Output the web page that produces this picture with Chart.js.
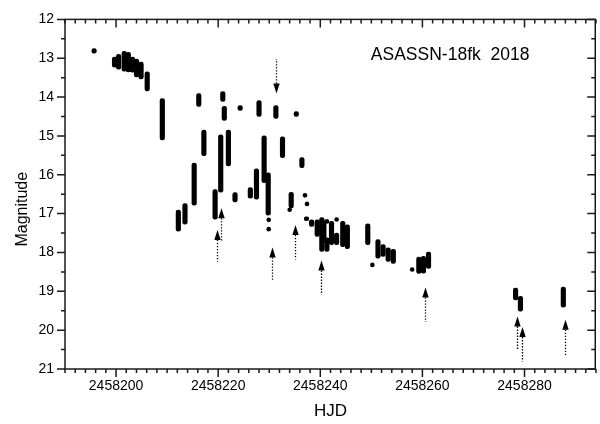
<!DOCTYPE html>
<html lang="en">
<head>
    <meta charset="UTF-8">
    <title>ASASSN-18fk 2018</title>
    <script src="https://cdn.jsdelivr.net/npm/chart.js"></script>
    <style>
        body {
            margin: 0;
            background-color: #fff;
        }
        #lightCurve {
            display: block;
        }
    </style>
</head>
<body>
    <canvas id="lightCurve" width="600" height="424"></canvas>

    <script>
        // nightly runs: HJD, brightest and faintest magnitude of the run
        const runHJD = [
            2458195.7, 2458199.7, 2458200.5, 2458201.6, 2458202.4, 2458203.2, 2458204.0, 2458204.9,
            2458206.1, 2458209.06, 2458212.2, 2458213.5, 2458215.3, 2458216.2, 2458217.2, 2458219.4,
            2458220.5, 2458220.9, 2458221.2, 2458222.0, 2458223.3, 2458224.3, 2458226.3, 2458227.5,
            2458228.0, 2458229.0, 2458229.8, 2458231.3, 2458232.6, 2458234.3, 2458235.3, 2458236.4,
            2458237.3, 2458238.3, 2458239.4, 2458240.3, 2458240.7, 2458241.3, 2458242.2, 2458243.2,
            2458244.4, 2458245.3, 2458249.3, 2458251.3, 2458252.3, 2458253.3, 2458254.3, 2458259.3,
            2458260.2, 2458261.2, 2458278.25, 2458279.2, 2458287.6
        ];
        const runBright = [
            12.75, 12.97, 12.90, 12.82, 12.85, 12.97, 13.02, 13.10,
            13.35, 14.04, 16.91, 16.74, 15.70, 13.91, 14.85, 16.38,
            14.97, 13.86, 14.24, 14.85, 16.46, 14.22, 16.33, 15.85,
            14.09, 15.00, 15.95, 14.22, 15.02, 16.45, 14.37, 15.56,
            17.08, 17.16, 17.16, 17.10, 17.18, 17.62, 17.20, 17.50,
            17.20, 17.29, 17.26, 17.67, 17.80, 17.88, 17.92, 18.12,
            18.10, 17.99, 18.92, 19.13, 18.89
        ];
        const runFaint = [
            12.87, 13.23, 13.28, 13.33, 13.35, 13.36, 13.48, 13.53,
            13.84, 15.10, 17.45, 17.27, 16.78, 14.24, 15.51, 17.14,
            16.45, 14.11, 14.60, 15.77, 16.70, 14.34, 16.60, 16.63,
            14.50, 16.20, 17.04, 14.55, 15.56, 16.85, 14.50, 15.82,
            17.18, 17.33, 17.59, 17.97, 17.75, 17.97, 17.80, 17.80,
            17.85, 17.90, 17.80, 18.15, 18.10, 18.23, 18.28, 18.54,
            18.53, 18.41, 19.22, 19.51, 19.41
        ];

        // isolated single measurements
        const dotHJD = [2458229.9, 2458229.9, 2458234.0, 2458237.0, 2458237.4, 2458241.3, 2458243.2, 2458250.2, 2458258.0];
        const dotMag = [17.16, 17.40, 16.90, 16.53, 16.75, 17.20, 17.15, 18.32, 18.44];

        // marked epochs: arrow tip and tail magnitudes
        const arrowHJD = [2458231.3, 2458219.75, 2458220.5, 2458230.5, 2458235.0, 2458240.2, 2458260.6, 2458278.6, 2458279.55, 2458288.0];
        const arrowTip = [13.91, 17.42, 16.86, 17.87, 17.29, 18.21, 18.90, 19.65, 19.92, 19.73];
        const arrowTail = [13.02, 18.23, 17.74, 18.75, 18.18, 19.09, 19.79, 20.51, 20.81, 20.64];

        const xTickValues = [2458200, 2458220, 2458240, 2458260, 2458280];
        const yTickValues = [12, 13, 14, 15, 16, 17, 18, 19, 20, 21];

        const FONT = '"Liberation Sans", Arial, sans-serif';
        const X_MIN = 2458190, X_MAX = 2458294;
        const Y_MIN = 12, Y_MAX = 21;

        // box frame with outward ticks on bottom/left and inward ticks on top/right,
        // plus the object label and the vertical axis title
        const frameTicks = {
            id: 'frameTicks',
            afterDraw(chart) {
                const {ctx, chartArea: a, scales: {x, y}} = chart;
                const right = a.right - 0.75;
                ctx.save();
                ctx.strokeStyle = '#1a1a1a';
                ctx.lineWidth = 1.5;
                ctx.strokeRect(a.left, a.top, right - a.left, a.bottom - a.top);
                ctx.beginPath();
                for (let d = X_MIN; d <= X_MAX; d += 2) {
                    const px = x.getPixelForValue(d);
                    const len = d % 20 === 0 ? 8 : 4;
                    ctx.moveTo(px, a.bottom);
                    ctx.lineTo(px, a.bottom + len);
                    ctx.moveTo(px, a.top);
                    ctx.lineTo(px, a.top + len);
                }
                for (let m = Y_MIN; m <= Y_MAX; m += 0.5) {
                    const py = y.getPixelForValue(m);
                    const len = m % 1 === 0 ? 8 : 4;
                    ctx.moveTo(a.left, py);
                    ctx.lineTo(a.left - len, py);
                    ctx.moveTo(right, py);
                    ctx.lineTo(right - len, py);
                }
                ctx.stroke();

                ctx.fillStyle = '#000';
                ctx.font = '17.5px ' + FONT;
                ctx.textBaseline = 'alphabetic';
                ctx.fillText('ASASSN-18fk  2018', x.getPixelForValue(2458249.9), y.getPixelForValue(13.05));

                // y title sits a little below the middle of the axis
                ctx.translate(22.5, (a.top + a.bottom) / 2 + 15);
                ctx.rotate(-Math.PI / 2);
                ctx.font = '16px ' + FONT;
                ctx.textAlign = 'center';
                ctx.textBaseline = 'middle';
                ctx.fillText('Magnitude', 0, 0);
                ctx.restore();
            }
        };

        // dotted arrows pointing at the marked epochs
        const arrows = {
            id: 'arrows',
            afterDatasetsDraw(chart) {
                const {ctx, scales: {x, y}} = chart;
                ctx.save();
                ctx.fillStyle = '#000';
                ctx.strokeStyle = '#000';
                arrowHJD.forEach((d, i) => {
                    const px = Math.round(x.getPixelForValue(d)) + 0.5;
                    const tip = y.getPixelForValue(arrowTip[i]);
                    const tail = y.getPixelForValue(arrowTail[i]);
                    const dir = Math.sign(tail - tip);
                    const base = tip + dir * 10;
                    ctx.lineWidth = 1.3;
                    ctx.setLineDash([1.4, 1.6]);
                    ctx.beginPath();
                    ctx.moveTo(px, base);
                    ctx.lineTo(px, tail);
                    ctx.stroke();
                    ctx.setLineDash([]);
                    ctx.beginPath();
                    ctx.moveTo(px, tip);
                    ctx.lineTo(px - 3.2, base);
                    ctx.lineTo(px + 3.2, base);
                    ctx.closePath();
                    ctx.fill();
                });
                ctx.restore();
            }
        };

        const ctx = document.getElementById('lightCurve').getContext('2d');
        const lightCurve = new Chart(ctx, {
            type: 'bar',
            data: {
                datasets: [{
                    label: 'runs',
                    data: runHJD.map((d, i) => ({x: d, y: [runFaint[i], runBright[i]]})),
                    backgroundColor: '#000',
                    borderWidth: 0,
                    barThickness: 4.5,
                    borderRadius: 3,
                    borderSkipped: false,
                    grouped: false
                },
                {
                    type: 'scatter',
                    label: 'single',
                    data: dotHJD.map((d, i) => ({x: d, y: dotMag[i]})),
                    backgroundColor: '#000',
                    borderWidth: 0,
                    pointRadius: 2.3
                }]
            },
            options: {
                responsive: false,
                animation: false,
                devicePixelRatio: 1,
                layout: {
                    padding: {top: 15, right: 0, left: 0, bottom: 0}
                },
                plugins: {
                    legend: {display: false},
                    tooltip: {enabled: false}
                },
                scales: {
                    x: {
                        type: 'linear',
                        min: X_MIN,
                        max: X_MAX,
                        offset: false,
                        grid: {display: false, drawTicks: false},
                        border: {display: false},
                        afterBuildTicks: s => { s.ticks = xTickValues.map(v => ({value: v})); },
                        afterFit: s => { s.height = 55; },
                        ticks: {
                            callback: v => String(v),
                            autoSkip: false,
                            maxRotation: 0,
                            padding: 9,
                            color: '#000',
                            font: {family: FONT, size: 14}
                        },
                        title: {
                            display: true,
                            text: 'HJD',
                            color: '#000',
                            padding: {top: 0, bottom: 2},
                            font: {family: FONT, size: 17}
                        }
                    },
                    y: {
                        type: 'linear',
                        reverse: true,
                        min: Y_MIN,
                        max: Y_MAX,
                        grid: {display: false, drawTicks: false},
                        border: {display: false},
                        afterBuildTicks: s => { s.ticks = yTickValues.map(v => ({value: v})); },
                        afterFit: s => { s.width = 65; },
                        ticks: {
                            callback: v => String(v),
                            padding: 11,
                            color: '#000',
                            font: {family: FONT, size: 14}
                        }
                    }
                }
            },
            plugins: [frameTicks, arrows]
        });
    </script>
</body>
</html>
